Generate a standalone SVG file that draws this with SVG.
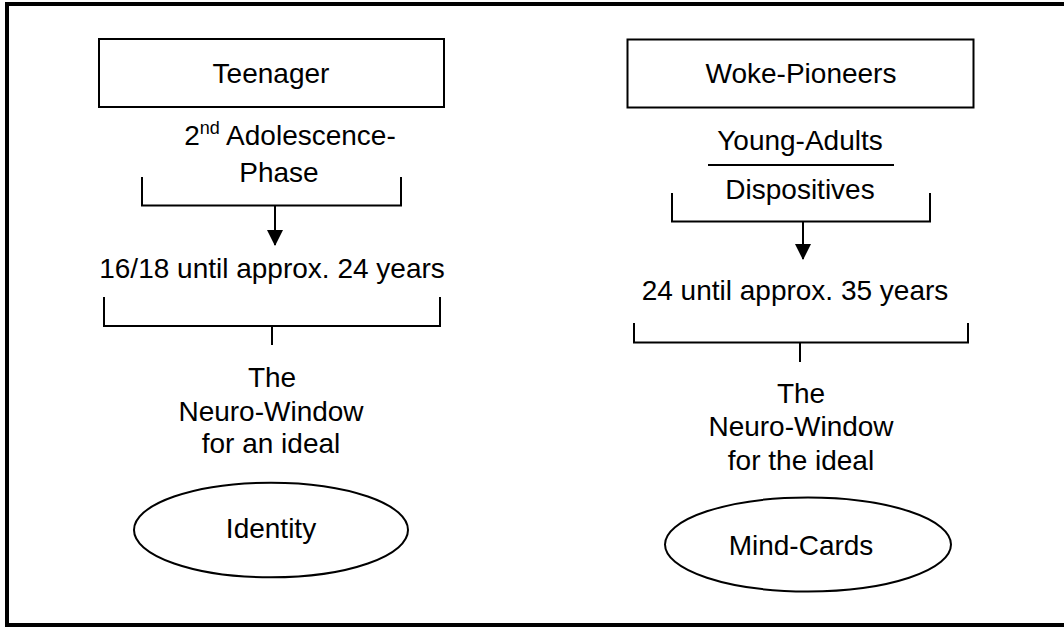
<svg xmlns="http://www.w3.org/2000/svg" width="1064" height="628" viewBox="0 0 1064 628">
<style>
.t{font-family:"Liberation Sans",Arial,sans-serif;font-size:28px;fill:#000;text-anchor:middle}
.s{fill:none;stroke:#000;stroke-width:2}
</style>
<defs>
<marker id="ah" markerUnits="userSpaceOnUse" markerWidth="16" markerHeight="18" refX="15" refY="8" orient="auto">
<path d="M0,0 L16,8 L0,16 Z" fill="#000"/>
</marker>
</defs>
<rect width="1064" height="628" fill="#fff"/>
<rect x="7" y="4" width="1080" height="621" fill="none" stroke="#000" stroke-width="4"/>
<g id="connectors">
<path class="s" d="M142,177 V205.5 H401 V177"/>
<path class="s" d="M275,205.5 V245" marker-end="url(#ah)"/>
<path class="s" d="M104,297 V326 H440 V297"/>
<path class="s" d="M272,326 V345"/>
<path class="s" d="M672,193 V221.5 H930 V193"/>
<path class="s" d="M803,221.5 V259" marker-end="url(#ah)"/>
<path class="s" d="M634,323 V342.5 H968 V323"/>
<path class="s" d="M800,342.5 V362"/>
</g>
<g id="teenager">
<rect class="s" x="99" y="39" width="345" height="68"/>
<text class="t" x="271" y="83">Teenager</text>
</g>
<g id="adolescence">
<text class="t" x="290" y="144.5">2<tspan font-size="18" dy="-11">nd</tspan><tspan dy="11"> Adolescence-</tspan></text>
<text class="t" x="279" y="182">Phase</text>
</g>
<g id="age-left">
<text class="t" x="272" y="278">16/18 until approx. 24 years</text>
</g>
<g id="window-left">
<text class="t" x="272" y="387">The</text>
<text class="t" x="271" y="421">Neuro-Window</text>
<text class="t" x="271" y="453">for an ideal</text>
</g>
<g id="identity">
<ellipse class="s" cx="271" cy="530" rx="137" ry="47.3"/>
<text class="t" x="271" y="538">Identity</text>
</g>
<g id="woke-pioneers">
<rect class="s" x="627.5" y="39.5" width="346" height="68"/>
<text class="t" x="801" y="82.5">Woke-Pioneers</text>
</g>
<g id="young-adults">
<text class="t" x="800" y="150">Young-Adults</text>
<line class="s" x1="708" y1="165" x2="894" y2="165"/>
<text class="t" x="800" y="198.5">Dispositives</text>
</g>
<g id="age-right">
<text class="t" x="795" y="300">24 until approx. 35 years</text>
</g>
<g id="window-right">
<text class="t" x="801" y="403">The</text>
<text class="t" x="801" y="436">Neuro-Window</text>
<text class="t" x="801" y="469.5">for the ideal</text>
</g>
<g id="mind-cards">
<ellipse class="s" cx="808" cy="544.5" rx="143" ry="47"/>
<text class="t" x="801" y="554.5">Mind-Cards</text>
</g>
</svg>
